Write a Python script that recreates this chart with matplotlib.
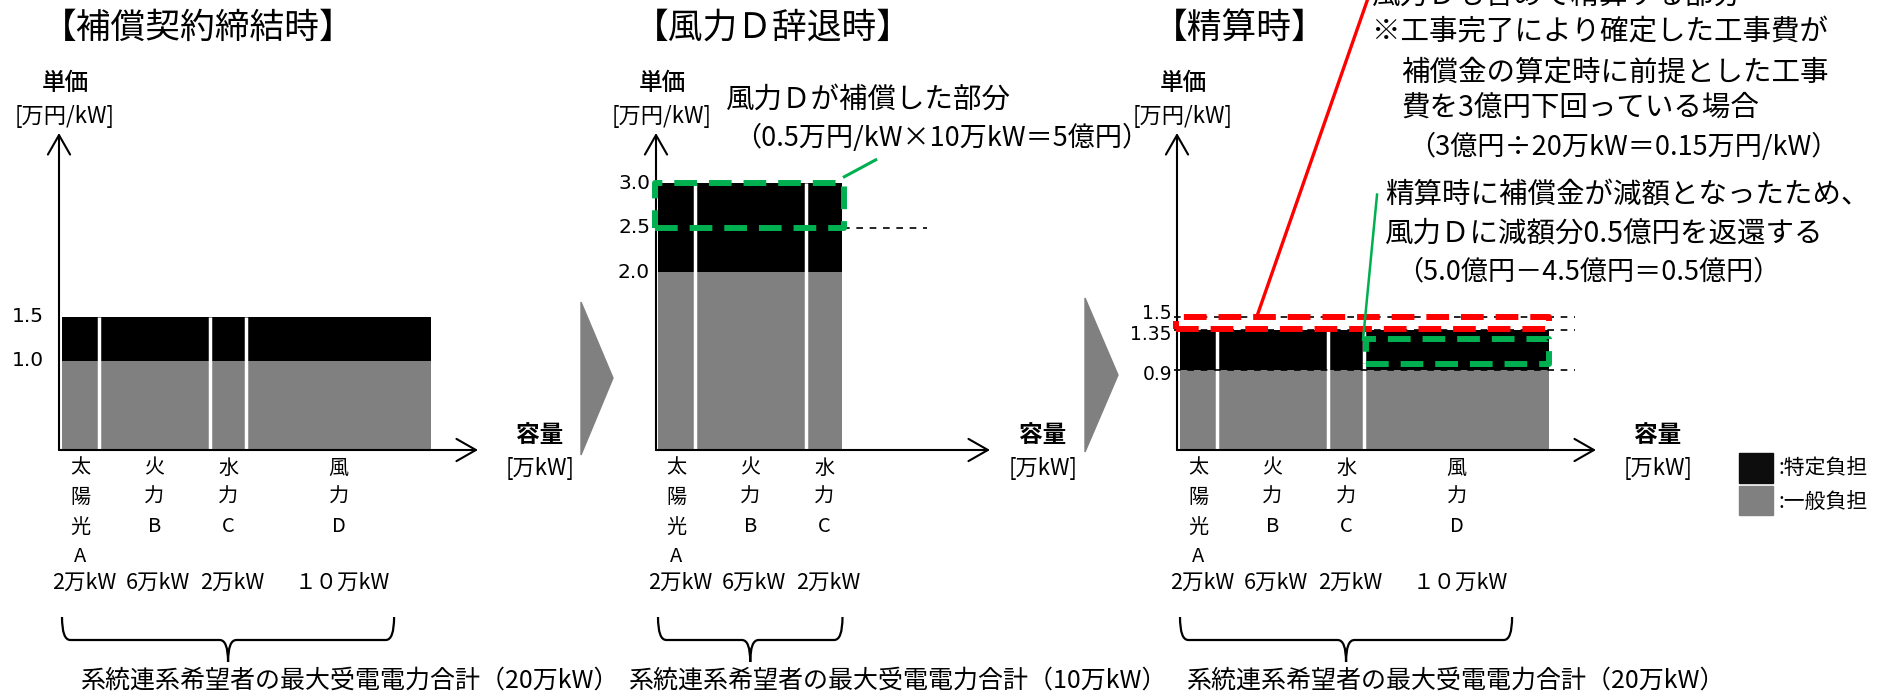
import matplotlib
matplotlib.use("Agg")
import matplotlib.pyplot as plt
import matplotlib.transforms as mtransforms
from matplotlib.patches import Rectangle, Polygon, PathPatch
from matplotlib.path import Path
import numpy as np

plt.rcParams["font.family"] = ["Noto Sans CJK JP", "DejaVu Sans"]

# ---- data ----
plants = ["太陽光A", "火力B", "水力C", "風力D"]
capacity = [2, 6, 2, 10]  # 万kW
capacity_labels = ["2万kW", "6万kW", "2万kW", "１０万kW"]

titles = ["【補償契約締結時】", "【風力Ｄ辞退時】", "【精算時】"]
n_plants = [4, 3, 4]
general = [1.0, 2.0, 0.9]     # 一般負担 [万円/kW]
specific = [0.5, 1.0, 0.45]   # 特定負担 [万円/kW]
yticks = [[1.0, 1.5], [2.0, 2.5, 3.0], [0.9, 1.35, 1.5]]
ytick_labels = [["1.0", "1.5"], ["2.0", "2.5", "3.0"], ["0.9", "1.35", "1.5"]]
totals = ["系統連系希望者の最大受電電力合計（20万kW）",
          "系統連系希望者の最大受電電力合計（10万kW）",
          "系統連系希望者の最大受電電力合計（20万kW）"]

d_share = 0.5        # 風力Dが補償した単価 (3.0 -> 2.5)
settle_price = 1.5   # 風力Dも含めて精算する単価

note2 = ["風力Ｄが補償した部分", "（0.5万円/kW×10万kW＝5億円）"]
note3a = ["風力Ｄも含めて精算する部分", "※工事完了により確定した工事費が",
          "補償金の算定時に前提とした工事", "費を3億円下回っている場合",
          "（3億円÷20万kW＝0.15万円/kW）"]
note3b = ["精算時に補償金が減額となったため、", "風力Ｄに減額分0.5億円を返還する",
          "（5.0億円－4.5億円＝0.5億円）"]

# ---- layout (pixels) ----
W, H = 1890, 693
axis_px = [59, 656, 1177]
x0_px = [62, 658, 1180]
xend_px = [478, 990, 1596]
SX, SY, BASE, TOP = 18.45, 89.0, 450, 133
brace_span = [18, 10, 18]
total_text_x = [80, 628, 1186]
title_cx = [198, 773, 1240]
tick_pad = [15, 6, 5]
tick_dy = [[0, 0], [0, 0, 0], [-3, -3, 2]]   # small nudges (points) for crowded labels
xlabel_dx = [62, 53, 62]

BLACK = "#000000"
GRAY = "#808080"
GREEN = "#00B050"
RED = "#FF0000"

fig = plt.figure(figsize=(W / 100, H / 100), dpi=100)
PX = mtransforms.Affine2D().scale(1 / W, -1 / H).translate(0, 1) + fig.transFigure


def ptext(x, y, s, **kw):
    kw.setdefault("va", "center")
    fig.text(x, y, s, transform=PX, **kw)


axes = []
for i in range(3):
    left, right = axis_px[i], xend_px[i]
    ax = fig.add_axes([left / W, 1 - BASE / H, (right - left) / W, (BASE - TOP) / H])
    xlim = ((left - x0_px[i]) / SX, (right - x0_px[i]) / SX)
    ylim = (0, (BASE - TOP) / SY)
    ax.set_xlim(xlim)
    ax.set_ylim(ylim)
    ax.patch.set_alpha(0)
    for s in ax.spines.values():
        s.set_visible(False)
    ax.set_xticks([])
    ax.set_yticks([])

    # y tick labels
    for v, lab, dy in zip(yticks[i], ytick_labels[i], tick_dy[i]):
        ytr = mtransforms.offset_copy(ax.get_yaxis_transform(), fig=fig,
                                      x=-tick_pad[i] * 0.72, y=dy, units="points")
        ax.text(0, v, lab, transform=ytr, ha="right", va="center",
                fontsize=13.5 if i == 2 else 14.5, fontfamily="DejaVu Sans")

    n = n_plants[i]
    caps = capacity[:n]
    starts = np.cumsum([0] + caps[:-1])
    ax.bar(starts, [general[i]] * n, width=caps, align="edge", color=GRAY, zorder=2)
    ax.bar(starts, [specific[i]] * n, bottom=general[i], width=caps, align="edge",
           color=BLACK, zorder=2)
    ax.vlines(starts[1:], 0, general[i] + specific[i], colors="white", lw=2.5, zorder=3)

    arrow = dict(arrowstyle="->,head_length=1.4,head_width=0.8", lw=1.5, color="black",
                 shrinkA=0, shrinkB=0)
    ax.annotate("", xy=(xlim[1], 0), xytext=(xlim[0], 0), arrowprops=arrow,
                annotation_clip=False)
    ax.annotate("", xy=(xlim[0], ylim[1]), xytext=(xlim[0], 0), arrowprops=arrow,
                annotation_clip=False)

    trans = mtransforms.blended_transform_factory(ax.transData, PX)
    for j in range(n):
        cx = starts[j] + caps[j] / 2
        for k, ch in enumerate(plants[j]):
            ax.text(cx, 468 + 29.5 * k, ch, transform=trans, ha="center", va="center",
                    fontsize=14.5)
        ax.text(cx + 0.2, 583, capacity_labels[j], transform=trans, ha="center",
                va="center", fontsize=15.5)

    # brace
    xl, xr = 0, brace_span[i]
    tip = (xl + xr) / 2
    r = 0.45
    verts = [(xl, 617), (xl, 640), (xl + r, 640), (tip - r, 640), (tip, 640), (tip, 662),
             (tip, 640), (tip + r, 640), (xr - r, 640), (xr, 640), (xr, 617)]
    codes = [Path.MOVETO, Path.CURVE3, Path.CURVE3, Path.LINETO, Path.CURVE3, Path.CURVE3,
             Path.CURVE3, Path.CURVE3, Path.LINETO, Path.CURVE3, Path.CURVE3]
    ax.add_patch(PathPatch(Path(verts, codes), transform=trans, fill=False, lw=1.6,
                           clip_on=False))

    ptext(total_text_x[i], 681, totals[i], fontsize=18)
    ptext(title_cx[i], 28, titles[i], fontsize=25, ha="center")
    ptext(axis_px[i] + 6, 83, "単価", fontsize=17, ha="center", fontweight="medium")
    ptext(axis_px[i] + 6, 117, "[万円/kW]", fontsize=16, ha="center")
    ptext(xend_px[i] + xlabel_dx[i], 435, "容量", fontsize=17, ha="center",
          fontweight="bold")
    ptext(xend_px[i] + xlabel_dx[i], 468, "[万kW]", fontsize=16, ha="center")
    axes.append(ax)

dash_thin = (0, (4, 4))
dash_box = (0, (3.8, 2.0))

# panel 2
ax = axes[1]
top2 = general[1] + specific[1]
total2 = sum(capacity[:n_plants[1]])
ax.hlines(top2 - d_share, total2, 14.6, colors="black", linestyles=dash_thin, lw=1.2,
          clip_on=False)
ax.add_patch(Rectangle((-0.15, top2 - d_share), total2 + 0.25, d_share, fill=False,
                       ec=GREEN, lw=4.3, ls=dash_box, joinstyle="round", clip_on=False,
                       zorder=5))
ax.plot([10.1, 11.8], [3.07, 3.26], color=GREEN, lw=2.2, clip_on=False, zorder=5)
ptext(726, 100, note2[0], fontsize=20.5)
ptext(734, 138, note2[1], fontsize=19.5)

# panel 3
ax = axes[2]
top3 = general[2] + specific[2]
total3 = sum(capacity)
ax.hlines([settle_price, top3, general[2]], -0.3, 21.4, colors="black",
          linestyles=dash_thin, lw=1.2, zorder=4, clip_on=False)
ax.add_patch(Rectangle((-0.2, top3 + 0.01), total3 + 0.2, settle_price - top3 - 0.02,
                       fill=False, ec=RED, lw=4.3, ls=dash_box, joinstyle="round",
                       clip_on=False, zorder=6))
d_start = sum(capacity[:3])
ax.add_patch(Rectangle((d_start + 0.1, general[2] + 0.07), capacity[3] - 0.1,
                       specific[2] - 0.17, fill=False, ec=GREEN, lw=4.3, ls=dash_box,
                       joinstyle="round", clip_on=False, zorder=6))
ax.plot([4.2, 10.4], [1.52, 5.2], color=RED, lw=2.4, clip_on=False, zorder=7)
ax.plot([10.68, 9.92], [2.87, 1.24], color=GREEN, lw=1.8, clip_on=False, zorder=7)

ptext(1372, -4, note3a[0], fontsize=20.5)
ptext(1372, 32, note3a[1], fontsize=20.5)
ptext(1401, 72, note3a[2], fontsize=20.5)
ptext(1401, 108, note3a[3], fontsize=20.5)
ptext(1408, 147, note3a[4], fontsize=19.5)
ptext(1385, 195, note3b[0], fontsize=20.5)
ptext(1385, 233, note3b[1], fontsize=20.5)
ptext(1396, 272, note3b[2], fontsize=19.5)

# arrows between panels
for pts in ([[581, 302], [613, 378], [581, 455]], [[1085, 298], [1118, 375], [1085, 452]]):
    fig.patches.append(Polygon(pts, closed=True, transform=PX, color=GRAY))

# legend
fig.patches.append(Rectangle((1739, 453), 34, 30, transform=PX, color="#0d0d0d"))
fig.patches.append(Rectangle((1739, 486), 34, 29, transform=PX, color=GRAY))
ptext(1778, 468, ":特定負担", fontsize=15)
ptext(1778, 502, ":一般負担", fontsize=15)

fig.savefig("out.png", dpi=100)
